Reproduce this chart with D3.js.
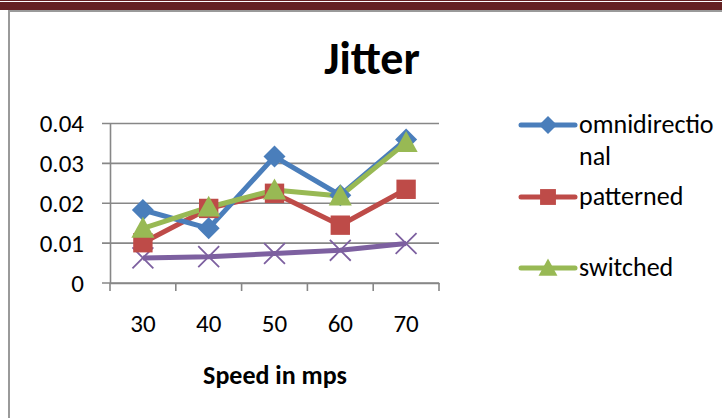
<!DOCTYPE html>
<html><head><meta charset="utf-8">
<script src="https://cdn.jsdelivr.net/npm/d3@7"></script>
<style>html,body{margin:0;padding:0;background:#fff;}svg{display:block;}</style>
</head><body>
<svg id="c" width="722" height="418"></svg>
<script>
const categories = ["30","40","50","60","70"];
const omnidirectional = [0.0183, 0.0137, 0.0317, 0.0220, 0.0360];
const patterned = [0.0101, 0.0187, 0.0225, 0.0145, 0.0235];
const switched = [0.0137, 0.0190, 0.0233, 0.0218, 0.0352];
const fourth = [0.0063, 0.0066, 0.0074, 0.0082, 0.0099];
const yTicks = [0, 0.01, 0.02, 0.03, 0.04];
const yTickLabels = ["0","0.01","0.02","0.03","0.04"];
const seriesNames = ["omnidirectional","patterned","switched",""];
const legendLabels = [["omnidirectio","nal"],["patterned"],["switched"]];

const series = [
  {name: seriesNames[0], values: omnidirectional, color:"#4a7ebb", marker:"diamond"},
  {name: seriesNames[1], values: patterned, color:"#be4b48", marker:"square"},
  {name: seriesNames[2], values: switched, color:"#98b954", marker:"triangle"},
  {name: seriesNames[3], values: fourth, color:"#7d60a0", marker:"x"}
];

const FONT = "Calibri, Carlito, Lato, sans-serif";
const svg = d3.select("#c");

// page decoration
svg.append("rect").attr("x",0).attr("y",0).attr("width",722).attr("height",10).attr("fill","#642122");
svg.append("rect").attr("x",0).attr("y",1).attr("width",722).attr("height",1).attr("fill","#ffffff");
svg.append("path").attr("d","M9,418 V11 H722").attr("fill","none").attr("stroke","#9a9a9a").attr("stroke-width",2);

const x = d3.scaleBand().domain(categories).range([110, 439]);
const y = d3.scaleLinear().domain([0, 0.04]).range([283, 123.5]);

// gridlines
const grid = svg.append("g");
grid.selectAll("line").data(yTicks).join("line")
  .attr("x1",102).attr("x2",439)
  .attr("y1",d=>y(d)).attr("y2",d=>y(d))
  .attr("stroke","#878787").attr("stroke-width",1.6);

// y axis
const yAxis = svg.append("g").attr("transform","translate(110,0)")
  .call(d3.axisLeft(y).tickValues(yTicks).tickFormat((d,i)=>yTickLabels[i]).tickSize(0).tickPadding(26));
yAxis.select(".domain").attr("stroke","#878787").attr("stroke-width",1.6);
yAxis.selectAll("text").attr("font-family",FONT).attr("font-size",25).attr("fill","#000");

// x axis
const xAxis = svg.append("g").attr("transform","translate(0,283)")
  .call(d3.axisBottom(x).tickSize(0).tickPadding(31));
xAxis.select(".domain").attr("stroke","#878787").attr("stroke-width",1.6);
xAxis.selectAll("text").attr("font-family",FONT).attr("font-size",25).attr("fill","#000");
// category boundary ticks
const bounds = categories.map(c=>x(c)).concat([x(categories[categories.length-1])+x.bandwidth()]);
svg.append("g").selectAll("line").data(bounds).join("line")
  .attr("x1",d=>d).attr("x2",d=>d).attr("y1",283).attr("y2",291)
  .attr("stroke","#878787").attr("stroke-width",1.6);

// title
svg.append("text").attr("x",372).attr("y",74).attr("text-anchor","middle")
  .attr("font-family",FONT).attr("font-weight","bold").attr("font-size",46).text("Jitter");
// x title
svg.append("text").attr("x",275).attr("y",384).attr("text-anchor","middle")
  .attr("font-family",FONT).attr("font-weight","bold").attr("font-size",26).text("Speed in mps");

function drawMarker(g, type, color, s) {
  if (type==="diamond") {
    g.append("path").attr("d",`M0,${-s} L${s},0 L0,${s} L${-s},0 Z`).attr("fill",color);
  } else if (type==="square") {
    g.append("rect").attr("x",-s*0.88).attr("y",-s*0.88).attr("width",s*1.76).attr("height",s*1.76).attr("fill",color);
  } else if (type==="triangle") {
    g.append("path").attr("d",`M0,${-s*1.05} L${s*1.05},${s*0.85} L${-s*1.05},${s*0.85} Z`).attr("fill",color);
  } else if (type==="x") {
    const k = s*0.95;
    g.append("path").attr("d",`M${-k},${-k} L${k},${k} M${-k},${k} L${k},${-k}`).attr("stroke",color).attr("stroke-width",1.8);
  }
}

const line = d3.line().x((d,i)=>x(categories[i])+x.bandwidth()/2).y(d=>y(d));
const order = [3,1,0,2];
order.forEach(si=>{
  const s = series[si];
  svg.append("path").attr("d",line(s.values)).attr("fill","none")
    .attr("stroke",s.color).attr("stroke-width",5).attr("stroke-linejoin","round");
});
order.forEach(si=>{
  const s = series[si];
  s.values.forEach((v,i)=>{
    const g = svg.append("g").attr("transform",`translate(${x(categories[i])+x.bandwidth()/2},${y(v)})`);
    drawMarker(g, s.marker, s.color, 11);
  });
});

// legend
const legY = [125, 197, 268];
legendLabels.forEach((lab,i)=>{
  const s = series[i];
  const g = svg.append("g").attr("transform",`translate(0,${legY[i]})`);
  g.append("line").attr("x1",521).attr("x2",575).attr("y1",0).attr("y2",0)
    .attr("stroke",s.color).attr("stroke-width",5).attr("stroke-linecap","round");
  const mg = g.append("g").attr("transform","translate(548,0)");
  drawMarker(mg, s.marker, s.color, 9);
  lab.forEach((t,j)=>{
    g.append("text").attr("x",579).attr("y",8 + j*32).attr("font-family",FONT)
      .attr("font-size",26).attr("fill","#000").text(t);
  });
});
</script>
</body></html>
